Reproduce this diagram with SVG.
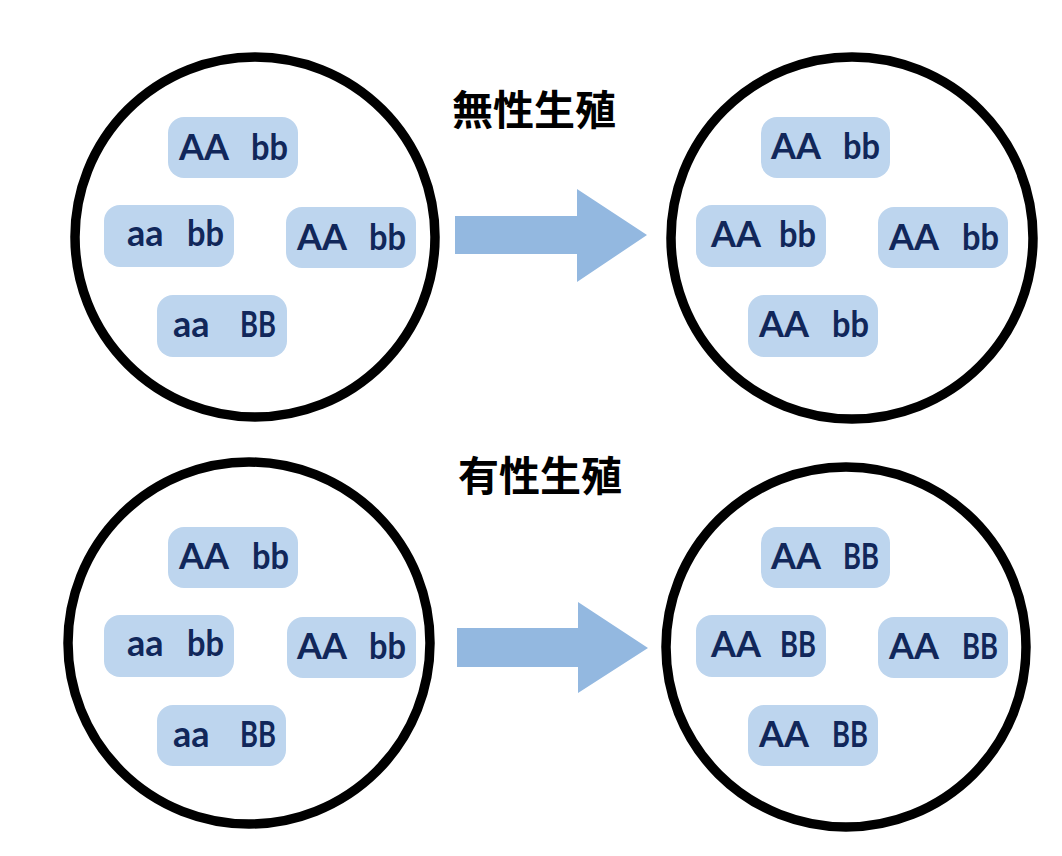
<svg xmlns="http://www.w3.org/2000/svg" width="1062" height="856" viewBox="0 0 1062 856">
<style>
.ring{fill:none;stroke:#000;stroke-width:9.5}
.pill{fill:#bdd5ee}
.g{font-family:Lato,"Liberation Sans",sans-serif;font-weight:700;font-size:36px;fill:#11275a}
.title{font-family:"Noto Sans CJK JP","Noto Sans CJK SC",sans-serif;font-weight:700;font-size:41px;fill:#000}
.arrow{fill:#93b8e0}
</style>
<rect width="1062" height="856" fill="#fff"/>
<text class="title" x="452" y="125">無性生殖</text>
<text class="title" x="458" y="491">有性生殖</text>

<g id="pop-asexual-before">
<circle class="ring" cx="255" cy="237" r="180"/>
<g id="a1-1"><rect class="pill" x="168" y="117" width="130" height="61" rx="16"/><text class="g" y="160"><tspan x="179">AA</tspan><tspan x="251" textLength="37" lengthAdjust="spacingAndGlyphs">bb</tspan></text></g>
<g id="a1-2"><rect class="pill" x="104" y="205" width="130" height="62" rx="16"/><text class="g" y="246"><tspan x="127">aa</tspan><tspan x="187" textLength="37" lengthAdjust="spacingAndGlyphs">bb</tspan></text></g>
<g id="a1-3"><rect class="pill" x="286" y="207" width="130" height="61" rx="16"/><text class="g" y="250"><tspan x="297">AA</tspan><tspan x="369" textLength="37" lengthAdjust="spacingAndGlyphs">bb</tspan></text></g>
<g id="a1-4"><rect class="pill" x="157" y="295" width="130" height="62" rx="16"/><text class="g" y="337"><tspan x="173">aa</tspan><tspan x="240" textLength="36" lengthAdjust="spacingAndGlyphs">BB</tspan></text></g>
</g>

<g id="pop-asexual-after">
<circle class="ring" cx="852" cy="238" r="181"/>
<g id="a2-1"><rect class="pill" x="761" y="117" width="129" height="61" rx="16"/><text class="g" y="159"><tspan x="771">AA</tspan><tspan x="843" textLength="37" lengthAdjust="spacingAndGlyphs">bb</tspan></text></g>
<g id="a2-2"><rect class="pill" x="696" y="205" width="130" height="62" rx="16"/><text class="g" y="247"><tspan x="711">AA</tspan><tspan x="779" textLength="37" lengthAdjust="spacingAndGlyphs">bb</tspan></text></g>
<g id="a2-3"><rect class="pill" x="878" y="207" width="130" height="61" rx="16"/><text class="g" y="250"><tspan x="889">AA</tspan><tspan x="962" textLength="37" lengthAdjust="spacingAndGlyphs">bb</tspan></text></g>
<g id="a2-4"><rect class="pill" x="748" y="295" width="130" height="62" rx="16"/><text class="g" y="337"><tspan x="759">AA</tspan><tspan x="832" textLength="37" lengthAdjust="spacingAndGlyphs">bb</tspan></text></g>
</g>

<g id="pop-sexual-before">
<circle class="ring" cx="249" cy="643" r="181"/>
<g id="s1-1"><rect class="pill" x="168" y="527" width="130" height="61" rx="16"/><text class="g" y="569"><tspan x="179">AA</tspan><tspan x="252" textLength="37" lengthAdjust="spacingAndGlyphs">bb</tspan></text></g>
<g id="s1-2"><rect class="pill" x="104" y="615" width="130" height="62" rx="16"/><text class="g" y="656"><tspan x="127">aa</tspan><tspan x="187" textLength="37" lengthAdjust="spacingAndGlyphs">bb</tspan></text></g>
<g id="s1-3"><rect class="pill" x="287" y="617" width="129" height="61" rx="16"/><text class="g" y="659"><tspan x="297">AA</tspan><tspan x="369" textLength="37" lengthAdjust="spacingAndGlyphs">bb</tspan></text></g>
<g id="s1-4"><rect class="pill" x="157" y="705" width="129" height="61" rx="16"/><text class="g" y="747"><tspan x="173">aa</tspan><tspan x="240" textLength="36" lengthAdjust="spacingAndGlyphs">BB</tspan></text></g>
</g>

<g id="pop-sexual-after">
<circle class="ring" cx="846" cy="647" r="180"/>
<g id="s2-1"><rect class="pill" x="761" y="527" width="129" height="61" rx="16"/><text class="g" y="569"><tspan x="771">AA</tspan><tspan x="843" textLength="36" lengthAdjust="spacingAndGlyphs">BB</tspan></text></g>
<g id="s2-2"><rect class="pill" x="696" y="615" width="130" height="62" rx="16"/><text class="g" y="657"><tspan x="711">AA</tspan><tspan x="780" textLength="36" lengthAdjust="spacingAndGlyphs">BB</tspan></text></g>
<g id="s2-3"><rect class="pill" x="878" y="617" width="130" height="61" rx="16"/><text class="g" y="659"><tspan x="889">AA</tspan><tspan x="962" textLength="36" lengthAdjust="spacingAndGlyphs">BB</tspan></text></g>
<g id="s2-4"><rect class="pill" x="748" y="705" width="130" height="61" rx="16"/><text class="g" y="747"><tspan x="759">AA</tspan><tspan x="832" textLength="36" lengthAdjust="spacingAndGlyphs">BB</tspan></text></g>
</g>

<g id="connectors">
<polygon class="arrow" points="455,216 577,216 577,189 647,235 577,282 577,254 455,254"/>
<polygon class="arrow" points="457,628 578,628 578,602 648,648 578,693 578,667 457,667"/>
</g>
</svg>
